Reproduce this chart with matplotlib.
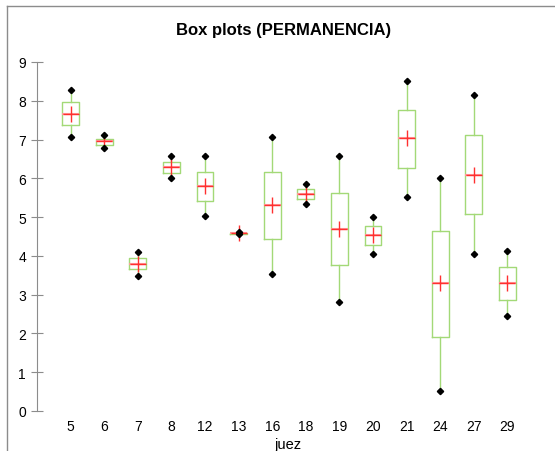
import matplotlib
matplotlib.use("Agg")
import matplotlib.pyplot as plt
from matplotlib.lines import Line2D

plt.rcParams['font.family'] = ['Liberation Sans', 'DejaVu Sans']

# jueces y estadisticos de PERMANENCIA por juez
jueces = ['5', '6', '7', '8', '12', '13', '16', '18', '19', '20', '21', '24', '27', '29']
minimos = [7.06, 6.78, 3.49, 6.00, 5.02, 4.56, 3.53, 5.35, 2.82, 4.04, 5.53, 0.52, 4.04, 2.46]
q1 = [7.37, 6.85, 3.65, 6.15, 5.41, 4.57, 4.43, 5.46, 3.76, 4.28, 6.27, 1.91, 5.08, 2.87]
medianas = [7.67, 6.95, 3.80, 6.28, 5.80, 4.58, 5.31, 5.60, 4.69, 4.54, 7.03, 3.30, 6.08, 3.30]
q3 = [7.96, 7.02, 3.95, 6.43, 6.17, 4.59, 6.17, 5.72, 5.62, 4.76, 7.75, 4.63, 7.11, 3.72]
maximos = [8.29, 7.12, 4.09, 6.57, 6.57, 4.61, 7.07, 5.85, 6.57, 4.99, 8.51, 6.02, 8.15, 4.13]
medias = [7.67, 6.95, 3.80, 6.30, 5.80, 4.60, 5.31, 5.60, 4.69, 4.54, 7.03, 3.30, 6.08, 3.30]

verde = '#a3d977'
gris = '#8c8c8c'

fig = plt.figure(figsize=(5.55, 4.52), dpi=100)
ax = fig.add_axes([37 / 555, 40 / 452, 504 / 555, 349 / 452])

stats = []
for i in range(len(jueces)):
    stats.append({'label': jueces[i], 'whislo': minimos[i], 'q1': q1[i], 'med': medianas[i],
                  'q3': q3[i], 'whishi': maximos[i], 'fliers': []})

pos = list(range(1, len(jueces) + 1))
ax.bxp(stats, positions=pos, widths=0.5, showcaps=False, showfliers=False,
       boxprops=dict(color=verde, linewidth=1.0),
       whiskerprops=dict(color=verde, linewidth=1.0),
       medianprops=dict(color='#ff9a9a', linewidth=1.5))

# media (+ rojo) y minimo/maximo (rombos negros)
ax.plot(pos, medias, linestyle='none', marker='+', color='#ff3030', markersize=12, mew=1.0, zorder=4)
ax.plot(pos, minimos, linestyle='none', marker='D', color='black', markersize=3.2, zorder=5)
ax.plot(pos, maximos, linestyle='none', marker='D', color='black', markersize=3.2, zorder=5)

ax.set_xlim(0, 15)
ax.set_ylim(0, 9)
ax.set_yticks(range(0, 10))
ax.set_xticks(pos)
ax.set_xticklabels(jueces)

for s in ['top', 'right', 'bottom']:
    ax.spines[s].set_visible(False)
ax.spines['left'].set_color(gris)
ax.tick_params(axis='y', direction='inout', length=8, color=gris, labelsize=10, pad=4)
ax.tick_params(axis='x', length=0, labelsize=10, pad=6)

fig.text(284 / 555, 1 - 31 / 452, 'Box plots (PERMANENCIA)', ha='center', va='center',
         fontsize=12, fontweight='bold')
fig.text(288 / 555, 1 - 445 / 452, 'juez', ha='center', va='center', fontsize=10.5)

# marco de la figura (izquierda y arriba)
fig.add_artist(Line2D([7 / 555, 7 / 555], [0, 1 - 7 / 452], color=gris, linewidth=1))
fig.add_artist(Line2D([7 / 555, 1], [1 - 7 / 452, 1 - 7 / 452], color=gris, linewidth=1))

fig.savefig('out.png', dpi=100)
